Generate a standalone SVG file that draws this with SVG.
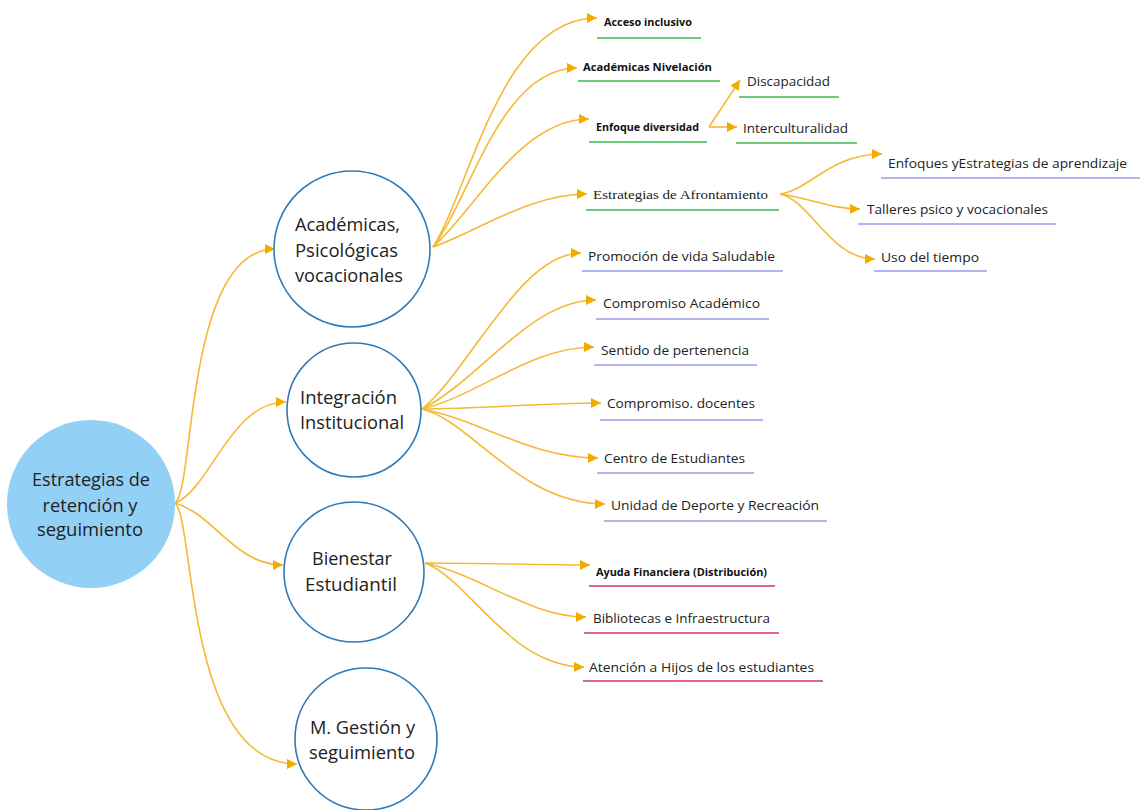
<svg xmlns="http://www.w3.org/2000/svg" width="1140" height="810" viewBox="0 0 1140 810">
<style>
.c{fill:#fff;stroke:#2E7AB8;stroke-width:1.6}
.root{fill:#93D0F5;stroke:none}
.ct{font-family:"Open Sans","Noto Sans",sans-serif;font-size:18px;fill:#222}
.l{font-family:"Open Sans","Noto Sans",sans-serif;font-size:13px;fill:#222}
.b{font-family:"Open Sans","Noto Sans",sans-serif;font-size:10px;font-weight:bold;fill:#111}
.s{font-family:"Liberation Serif","DejaVu Serif",serif;font-size:13px;fill:#222}
.g{stroke:#3DBA4A;stroke-width:1.5}
.p{stroke:#9B9BEF;stroke-width:1.5}
.r{stroke:#D8325F;stroke-width:1.5}
#connectors path{fill:none;stroke:#F5B935;stroke-width:1.6;marker-end:url(#ah)}
</style>
<defs>
<marker id="ah" markerUnits="userSpaceOnUse" markerWidth="11" markerHeight="10" refX="10" refY="5" orient="auto">
<path d="M0,0 L10,5 L0,10 z" fill="#F2AC00"/>
</marker>
</defs>
<rect width="1140" height="810" fill="#fff"/>
<g id="connectors">
<path d="M175,503 C195,490 185,249 275,249"/>
<path d="M175,503 C210,490 230,402 286,402"/>
<path d="M175,503 C215,515 235,565 283,565"/>
<path d="M175,503 C195,520 185,764 297,764"/>
<path d="M433,247 C470,190 500,18 597,18"/>
<path d="M433,247 C470,200 500,68 577,68"/>
<path d="M433,247 C475,210 520,119 589,119"/>
<path d="M433,247 C480,230 530,194 587,194"/>
<path d="M709,127 L740,80"/>
<path d="M709,127 L737,127"/>
<path d="M780,194 C810,190 830,154 882,154"/>
<path d="M780,194 C810,198 830,209 860,209"/>
<path d="M780,194 C810,200 830,259 875,259"/>
<path d="M422,409 C470,370 520,253 581,253"/>
<path d="M422,409 C480,380 530,300 596,300"/>
<path d="M422,409 C480,395 530,347 594,347"/>
<path d="M422,409 C480,409 540,403 601,403"/>
<path d="M422,409 C480,420 530,458 598,458"/>
<path d="M422,409 C470,420 520,504 605,504"/>
<path d="M425,563 C480,563 540,565 590,565"/>
<path d="M425,563 C480,575 530,617 586,617"/>
<path d="M425,563 C470,580 510,667 584,667"/>
</g>
<g id="root">
<circle class="root" cx="91" cy="504" r="84"/>
<text class="ct" x="91" y="486" text-anchor="middle" textLength="118" lengthAdjust="spacingAndGlyphs">Estrategias de</text>
<text class="ct" x="90" y="512" text-anchor="middle" textLength="95" lengthAdjust="spacingAndGlyphs">retención y</text>
<text class="ct" x="90" y="536" text-anchor="middle" textLength="106" lengthAdjust="spacingAndGlyphs">seguimiento</text>
</g>
<g id="n-academicas">
<circle class="c" cx="352" cy="249" r="78"/>
<text class="ct" x="295" y="231" textLength="105" lengthAdjust="spacingAndGlyphs">Académicas,</text>
<text class="ct" x="295" y="257" textLength="103" lengthAdjust="spacingAndGlyphs">Psicológicas</text>
<text class="ct" x="295" y="282" textLength="108" lengthAdjust="spacingAndGlyphs">vocacionales</text>
</g>
<g id="n-integracion">
<circle class="c" cx="354" cy="410" r="67"/>
<text class="ct" x="300" y="404" textLength="97" lengthAdjust="spacingAndGlyphs">Integración</text>
<text class="ct" x="300" y="429" textLength="104" lengthAdjust="spacingAndGlyphs">Institucional</text>
</g>
<g id="n-bienestar">
<circle class="c" cx="354" cy="572" r="70"/>
<text class="ct" x="352" y="565" text-anchor="middle" textLength="80" lengthAdjust="spacingAndGlyphs">Bienestar</text>
<text class="ct" x="351" y="591" text-anchor="middle" textLength="92" lengthAdjust="spacingAndGlyphs">Estudiantil</text>
</g>
<g id="n-gestion">
<circle class="c" cx="366" cy="739" r="71"/>
<text class="ct" x="310" y="734" textLength="105" lengthAdjust="spacingAndGlyphs">M. Gestión y</text>
<text class="ct" x="309" y="759" textLength="106" lengthAdjust="spacingAndGlyphs">seguimiento</text>
</g>
<g id="l-acceso"><text class="b" x="604" y="26" textLength="88" lengthAdjust="spacingAndGlyphs">Acceso inclusivo</text><line class="g" x1="597" y1="38" x2="701" y2="38"/></g>
<g id="l-nivelacion"><text class="b" x="583" y="71" textLength="129" lengthAdjust="spacingAndGlyphs">Académicas Nivelación</text><line class="g" x1="578" y1="81" x2="720" y2="81"/></g>
<g id="l-enfoque"><text class="b" x="596" y="131" textLength="103" lengthAdjust="spacingAndGlyphs">Enfoque diversidad</text><line class="g" x1="589" y1="142" x2="707" y2="142"/></g>
<g id="l-afrontamiento"><text class="s" x="593" y="199" textLength="175" lengthAdjust="spacingAndGlyphs">Estrategias de Afrontamiento</text><line class="g" x1="586" y1="210" x2="779" y2="210"/></g>
<g id="l-discapacidad"><text class="l" x="747" y="86" textLength="83" lengthAdjust="spacingAndGlyphs">Discapacidad</text><line class="g" x1="739" y1="97" x2="839" y2="97"/></g>
<g id="l-intercult"><text class="l" x="743" y="133" textLength="105" lengthAdjust="spacingAndGlyphs">Interculturalidad</text><line class="g" x1="736" y1="143" x2="857" y2="143"/></g>
<g id="l-enfoques"><text class="l" x="888" y="168" textLength="239" lengthAdjust="spacingAndGlyphs">Enfoques yEstrategias de aprendizaje</text><line class="p" x1="881" y1="178" x2="1140" y2="178"/></g>
<g id="l-talleres"><text class="l" x="867" y="214" textLength="181" lengthAdjust="spacingAndGlyphs">Talleres psico y vocacionales</text><line class="p" x1="858" y1="224" x2="1056" y2="224"/></g>
<g id="l-uso"><text class="l" x="881" y="262" textLength="98" lengthAdjust="spacingAndGlyphs">Uso del tiempo</text><line class="p" x1="874" y1="271" x2="987" y2="271"/></g>
<g id="l-promocion"><text class="l" x="588" y="261" textLength="187" lengthAdjust="spacingAndGlyphs">Promoción de vida Saludable</text><line class="p" x1="582" y1="271" x2="783" y2="271"/></g>
<g id="l-compacad"><text class="l" x="603" y="308" textLength="157" lengthAdjust="spacingAndGlyphs">Compromiso Académico</text><line class="p" x1="596" y1="319" x2="769" y2="319"/></g>
<g id="l-sentido"><text class="l" x="601" y="355" textLength="148" lengthAdjust="spacingAndGlyphs">Sentido de pertenencia</text><line class="p" x1="594" y1="365" x2="757" y2="365"/></g>
<g id="l-docentes"><text class="l" x="607" y="408" textLength="148" lengthAdjust="spacingAndGlyphs">Compromiso. docentes</text><line class="p" x1="600" y1="420" x2="763" y2="420"/></g>
<g id="l-centro"><text class="l" x="604" y="463" textLength="141" lengthAdjust="spacingAndGlyphs">Centro de Estudiantes</text><line class="p" x1="597" y1="473" x2="754" y2="473"/></g>
<g id="l-unidad"><text class="l" x="611" y="510" textLength="208" lengthAdjust="spacingAndGlyphs">Unidad de Deporte y Recreación</text><line class="p" x1="604" y1="521" x2="827" y2="521"/></g>
<g id="l-ayuda"><text class="b" x="596" y="576" textLength="171" lengthAdjust="spacingAndGlyphs">Ayuda Financiera (Distribución)</text><line class="r" x1="589" y1="586" x2="775" y2="586"/></g>
<g id="l-bibliotecas"><text class="l" x="593" y="623" textLength="177" lengthAdjust="spacingAndGlyphs">Bibliotecas e Infraestructura</text><line class="r" x1="584" y1="633" x2="779" y2="633"/></g>
<g id="l-atencion"><text class="l" x="589" y="672" textLength="225" lengthAdjust="spacingAndGlyphs">Atención a Hijos de los estudiantes</text><line class="r" x1="583" y1="681" x2="823" y2="681"/></g>
</svg>
